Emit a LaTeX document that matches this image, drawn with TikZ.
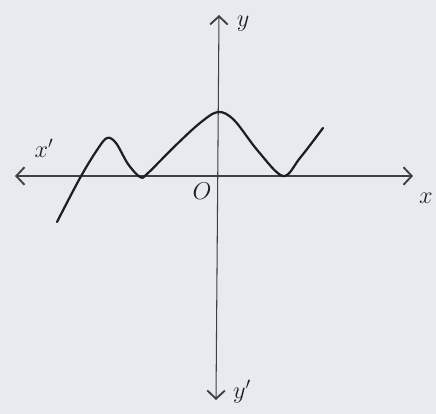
\documentclass[tikz,border=0pt]{standalone}
\usetikzlibrary{arrows.meta}
\definecolor{paper}{HTML}{E7EAEE}
\definecolor{ink}{HTML}{1E1E22}
\tikzset{
  axis/.style={ink!85, line width=0.9pt},
  barb/.tip={Straight Barb[length=7pt,width=15pt,line width=1.6pt]},
  curve/.style={ink, line width=1.9pt, line cap=round, line join=round},
  lbl/.style={ink, font=\huge},
}
\begin{document}
\begin{tikzpicture}[x=0.03cm, y=-0.03cm]
    \fill[paper] (0,0) rectangle (436,414);
    \useasboundingbox (0,0) rectangle (436,414);

    \coordinate (xl) at (15,176);
    \coordinate (xr) at (413,176);
    \coordinate (yt) at (219,15);
    \coordinate (yb) at (216,400);

    \draw[axis, barb-barb] (xl) -- (xr);
    \draw[axis, barb-barb] (yb) -- (yt);

    \node[lbl] (xp) at (44,148) {$x'$};
    \node[lbl] (xx) at (426,198) {$x$};
    \node[lbl] (yy) at (243,24) {$y$};
    \node[lbl] (yp) at (242,392) {$y'$};
    \node[lbl] (o) at (202,191) {$O$};

    \draw[curve] plot[smooth, tension=0.55] coordinates {
        (57,222) (80,178) (97,150) (107,138) (116,143) (128,164) (140,177) (147,174)
        (175,146) (200,123) (218,112) (234,120) (258,151) (283,176) (300,158) (323,128)};
\end{tikzpicture}
\end{document}
